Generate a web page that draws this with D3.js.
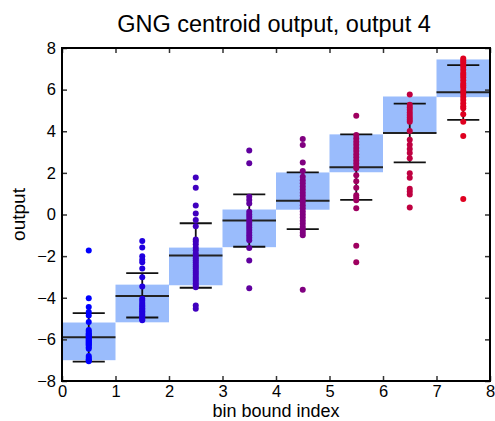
<!DOCTYPE html>
<html>
<head>
<meta charset="utf-8">
<script src="https://cdn.jsdelivr.net/npm/d3@7"></script>
<style>
  body { margin: 0; background: #fff; }
  text { font-family: "Liberation Sans", Arial, sans-serif; fill: #000; }
</style>
</head>
<body>
<svg id="chart"></svg>
<script>
// bin index (left edge of each bin)
const bins = [0, 1, 2, 3, 4, 5, 6, 7];

// shaded box per bin (lower / upper edge)
const boxLow  = [-7.0, -5.18, -3.4, -1.57, 0.23, 2.03, 3.9, 5.64];
const boxHigh = [-5.19, -3.37, -1.59, 0.24, 2.02, 3.85, 5.67, 7.45];
// mean line per bin
const means   = [-5.9, -3.91, -1.97, -0.29, 0.66, 2.27, 3.92, 5.87];
// error bar ends
const errLow  = [-7.07, -4.95, -3.52, -1.55, -0.7, 0.7, 2.5, 4.55];
const errHigh = [-4.74, -2.82, -0.42, 0.97, 2.02, 3.85, 5.33, 7.18];

// individual outputs per bin
const bin0 = [-1.73, -4.03, -4.45, -4.69, -4.85, -5.17, -5.55, -5.62, -5.7, -5.75, -5.8, -5.85, -5.9, -5.95,
              -6.0, -6.05, -6.1, -6.15, -6.2, -6.25, -6.3, -6.38, -6.45, -6.8, -6.88, -6.95, -7.0, -7.05];
const bin1 = [-1.27, -1.59, -2.01, -2.17, -2.3, -2.6, -3.02, -3.46, -4.05, -4.15, -4.25, -4.35, -4.42,
              -4.5, -4.58, -4.65, -4.72, -4.8, -4.88, -4.95, -5.02, -5.08];
const bin2 = [1.78, 1.28, 0.43, 0.05, -0.27, -0.56, -1.2, -1.3, -1.43, -1.6, -1.72, -1.87, -2.0, -2.1,
              -2.2, -2.3, -2.4, -2.5, -2.6, -2.7, -2.8, -2.9, -3.0, -3.1, -3.2, -3.3, -3.4, -3.49, -4.37, -4.53];
const bin3 = [3.07, 2.46, 0.85, 0.7, 0.53, 0.13, 0.0, -0.12, -0.25, -0.38, -0.5, -0.62, -0.75, -0.88,
              -1.0, -1.12, -1.24, -1.61, -2.21, -3.54];
const bin4 = [3.63, 3.34, 2.5, 2.09, 1.81, 1.65, 1.5, 1.35, 1.2, 1.05, 0.9, 0.75, 0.6, 0.45, 0.3, 0.15,
              0.0, -0.15, -0.3, -0.45, -0.6, -0.75, -0.88, -1.0, -3.61];
const bin5 = [4.75, 3.82, 3.65, 3.5, 3.35, 3.2, 3.05, 2.9, 2.75, 2.6, 2.45, 2.3, 2.22, 1.89, 1.6, 1.28,
              0.93, 0.8, 0.69, 0.3, -1.5, -2.3];
const bin6 = [5.76, 5.27, 5.15, 5.03, 4.9, 4.78, 4.66, 4.55, 4.46, 4.01, 3.59, 3.35, 3.15, 2.95, 2.7,
              1.98, 1.77, 1.24, 1.1, 0.96, 0.34];
const bin7 = [7.5, 7.4, 7.3, 7.2, 7.1, 6.95, 6.8, 6.7, 6.6, 6.45, 6.3, 6.2, 6.1, 5.95, 5.8, 5.65, 5.5,
              5.35, 5.2, 5.1, 4.82, 4.46, 3.77, 0.74];

const dotColors = ["#0000ff", "#2000df", "#4000bf", "#60009f", "#800080", "#9f0060", "#bf0040", "#df0020"];

const xTicks = [0, 1, 2, 3, 4, 5, 6, 7, 8];
const yTicks = [-8, -6, -4, -2, 0, 2, 4, 6, 8];

const samples = [bin0, bin1, bin2, bin3, bin4, bin5, bin6, bin7];

const width = 495, height = 421;
const marginTop = 48, marginRight = 5, marginBottom = 40, marginLeft = 62;

const svg = d3.select("#chart")
    .attr("width", width)
    .attr("height", height);

const x = d3.scaleLinear()
    .domain([0, 8])
    .range([marginLeft, width - marginRight]);

const y = d3.scaleLinear()
    .domain([-8, 8])
    .range([height - marginBottom, marginTop]);

// boxes
svg.append("g")
    .selectAll("rect")
    .data(bins)
    .join("rect")
    .attr("x", d => x(d))
    .attr("width", d => x(d + 1) - x(d))
    .attr("y", (d, i) => y(boxHigh[i]))
    .attr("height", (d, i) => y(boxLow[i]) - y(boxHigh[i]))
    .attr("fill", "#9abcfc");

// mean lines
svg.append("g")
    .selectAll("line")
    .data(bins)
    .join("line")
    .attr("x1", d => x(d))
    .attr("x2", d => x(d + 1))
    .attr("y1", (d, i) => y(means[i]))
    .attr("y2", (d, i) => y(means[i]))
    .attr("stroke", "#222")
    .attr("stroke-width", 2);

// error bars
const err = svg.append("g").attr("stroke", "#111").attr("stroke-width", 1.8);
bins.forEach(function (b, i) {
    err.append("line")
        .attr("x1", x(b + 0.5)).attr("x2", x(b + 0.5))
        .attr("y1", y(errLow[i])).attr("y2", y(errHigh[i]));
    [errLow[i], errHigh[i]].forEach(function (v) {
        err.append("line")
            .attr("x1", x(b + 0.2)).attr("x2", x(b + 0.8))
            .attr("y1", y(v)).attr("y2", y(v));
    });
});

// dots
bins.forEach(function (b, i) {
    svg.append("g")
        .selectAll("circle")
        .data(samples[i])
        .join("circle")
        .attr("cx", x(b + 0.5))
        .attr("cy", d => y(d))
        .attr("r", 3)
        .attr("fill", dotColors[i]);
});

// axes, ticks pointing inward on all sides
function styleAxis(g) {
    g.select(".domain").remove();
    g.selectAll(".tick line").attr("stroke", "#333").attr("stroke-width", 1.5);
    g.selectAll(".tick text").attr("font-size", 16.5).attr("fill", "#000")
        .attr("font-family", "Liberation Sans, Arial, sans-serif");
}

svg.append("g")
    .attr("transform", `translate(0,${height - marginBottom})`)
    .call(d3.axisBottom(x).tickValues(xTicks).tickFormat(d3.format("d")).tickSizeInner(-5).tickPadding(4))
    .call(styleAxis);

svg.append("g")
    .attr("transform", `translate(0,${marginTop})`)
    .call(d3.axisTop(x).tickValues(xTicks).tickFormat("").tickSizeInner(-5))
    .call(styleAxis);

svg.append("g")
    .attr("transform", `translate(${marginLeft},0)`)
    .call(d3.axisLeft(y).tickValues(yTicks).tickFormat(d => d < 0 ? "\u2212" + Math.abs(d) : d).tickSizeInner(-5).tickPadding(6))
    .call(styleAxis);

svg.append("g")
    .attr("transform", `translate(${width - marginRight},0)`)
    .call(d3.axisRight(y).tickValues(yTicks).tickFormat("").tickSizeInner(-5))
    .call(styleAxis);

// frame
svg.append("rect")
    .attr("x", x(0))
    .attr("y", y(8))
    .attr("width", x(8) - x(0))
    .attr("height", y(-8) - y(8))
    .attr("fill", "none")
    .attr("stroke", "#000")
    .attr("stroke-width", 2);

// labels
svg.append("text")
    .attr("x", 274)
    .attr("y", 32)
    .attr("text-anchor", "middle")
    .attr("font-size", 23.5)
    .text("GNG centroid output, output 4");

svg.append("text")
    .attr("x", (x(0) + x(8)) / 2)
    .attr("y", 417)
    .attr("text-anchor", "middle")
    .attr("font-size", 18)
    .text("bin bound index");

svg.append("text")
    .attr("transform", `translate(25,${(y(8) + y(-8)) / 2}) rotate(-90)`)
    .attr("text-anchor", "middle")
    .attr("font-size", 19)
    .text("output");
</script>
</body>
</html>
